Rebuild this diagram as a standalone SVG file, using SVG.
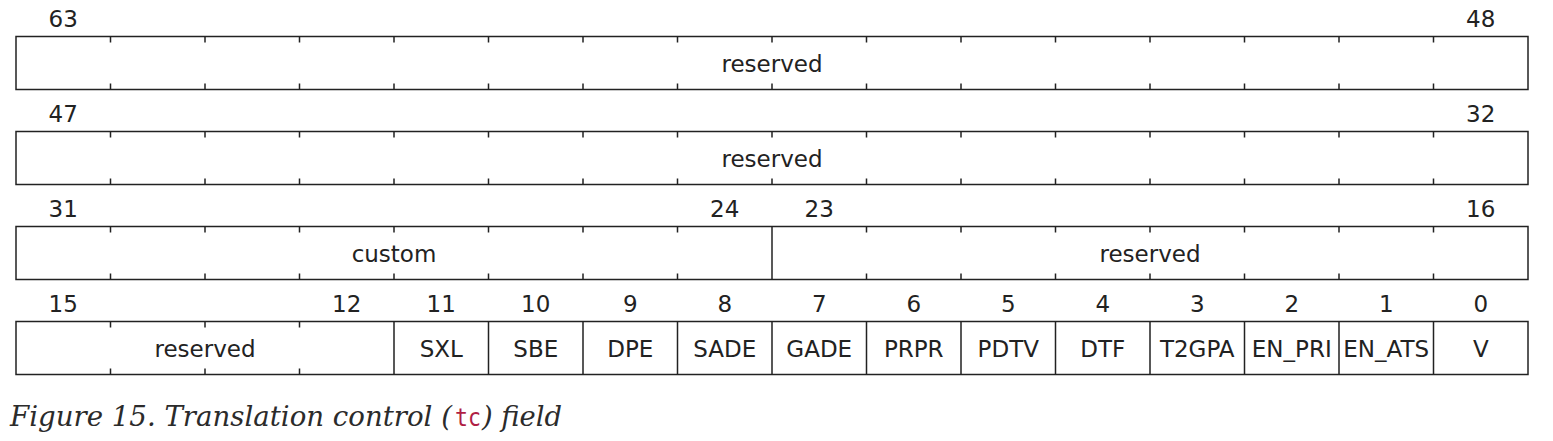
<svg xmlns="http://www.w3.org/2000/svg" width="1553" height="441" viewBox="0 0 1553 441">
<style>
.box{fill:#fff;stroke:#222;stroke-width:1.5}
.sep{stroke:#222;stroke-width:1.5}
.tk{stroke:#222;stroke-width:1.5}
.num{font-family:"DejaVu Sans",sans-serif;font-size:23px;fill:#222;text-anchor:middle}
.lbl{font-family:"DejaVu Sans",sans-serif;font-size:23px;fill:#222;text-anchor:middle}
.cap{font-family:"DejaVu Serif","Liberation Serif",serif;font-style:italic;font-size:27px;fill:#2b2b2b}
.code{font-family:"DejaVu Sans Mono",monospace;font-style:normal;font-size:25px;fill:#b01e45}
</style>
<rect width="1553" height="441" fill="#fff"/>

<g id="row1">
<rect class="box" x="16" y="36.5" width="1512" height="53"/>
<path class="tk" d="M110.5 36.5v6M205 36.5v6M299.5 36.5v6M394 36.5v6M488.5 36.5v6M583 36.5v6M677.5 36.5v6M772 36.5v6M866.5 36.5v6M961 36.5v6M1055.5 36.5v6M1150 36.5v6M1244.5 36.5v6M1339 36.5v6M1433.5 36.5v6M110.5 89.5v-6M205 89.5v-6M299.5 89.5v-6M394 89.5v-6M488.5 89.5v-6M583 89.5v-6M677.5 89.5v-6M772 89.5v-6M866.5 89.5v-6M961 89.5v-6M1055.5 89.5v-6M1150 89.5v-6M1244.5 89.5v-6M1339 89.5v-6M1433.5 89.5v-6"/>
<text class="num" x="63.25" y="27">63</text>
<text class="num" x="1480.75" y="27">48</text>
<text class="lbl" x="772" y="72">reserved</text>
</g>

<g id="row2">
<rect class="box" x="16" y="131.5" width="1512" height="53"/>
<path class="tk" d="M110.5 131.5v6M205 131.5v6M299.5 131.5v6M394 131.5v6M488.5 131.5v6M583 131.5v6M677.5 131.5v6M772 131.5v6M866.5 131.5v6M961 131.5v6M1055.5 131.5v6M1150 131.5v6M1244.5 131.5v6M1339 131.5v6M1433.5 131.5v6M110.5 184.5v-6M205 184.5v-6M299.5 184.5v-6M394 184.5v-6M488.5 184.5v-6M583 184.5v-6M677.5 184.5v-6M772 184.5v-6M866.5 184.5v-6M961 184.5v-6M1055.5 184.5v-6M1150 184.5v-6M1244.5 184.5v-6M1339 184.5v-6M1433.5 184.5v-6"/>
<text class="num" x="63.25" y="122">47</text>
<text class="num" x="1480.75" y="122">32</text>
<text class="lbl" x="772" y="167">reserved</text>
</g>

<g id="row3">
<rect class="box" x="16" y="226.5" width="1512" height="53"/>
<path class="sep" d="M772 226.5v53"/>
<path class="tk" d="M110.5 226.5v6M205 226.5v6M299.5 226.5v6M394 226.5v6M488.5 226.5v6M583 226.5v6M677.5 226.5v6M866.5 226.5v6M961 226.5v6M1055.5 226.5v6M1150 226.5v6M1244.5 226.5v6M1339 226.5v6M1433.5 226.5v6M110.5 279.5v-6M205 279.5v-6M299.5 279.5v-6M394 279.5v-6M488.5 279.5v-6M583 279.5v-6M677.5 279.5v-6M866.5 279.5v-6M961 279.5v-6M1055.5 279.5v-6M1150 279.5v-6M1244.5 279.5v-6M1339 279.5v-6M1433.5 279.5v-6"/>
<text class="num" x="63.25" y="217">31</text>
<text class="num" x="724.75" y="217">24</text>
<text class="num" x="819.25" y="217">23</text>
<text class="num" x="1480.75" y="217">16</text>
<text class="lbl" x="394" y="262">custom</text>
<text class="lbl" x="1150" y="262">reserved</text>
</g>

<g id="row4">
<rect class="box" x="16" y="321.5" width="1512" height="53"/>
<path class="sep" d="M394 321.5v53M488.5 321.5v53M583 321.5v53M677.5 321.5v53M772 321.5v53M866.5 321.5v53M961 321.5v53M1055.5 321.5v53M1150 321.5v53M1244.5 321.5v53M1339 321.5v53M1433.5 321.5v53"/>
<path class="tk" d="M110.5 321.5v6M205 321.5v6M299.5 321.5v6M110.5 374.5v-6M205 374.5v-6M299.5 374.5v-6"/>
<text class="num" x="63.25" y="312">15</text>
<text class="num" x="346.75" y="312">12</text>
<text class="num" x="441.25" y="312">11</text>
<text class="num" x="535.75" y="312">10</text>
<text class="num" x="630.25" y="312">9</text>
<text class="num" x="724.75" y="312">8</text>
<text class="num" x="819.25" y="312">7</text>
<text class="num" x="913.75" y="312">6</text>
<text class="num" x="1008.25" y="312">5</text>
<text class="num" x="1102.75" y="312">4</text>
<text class="num" x="1197.25" y="312">3</text>
<text class="num" x="1291.75" y="312">2</text>
<text class="num" x="1386.25" y="312">1</text>
<text class="num" x="1480.75" y="312">0</text>
<text class="lbl" x="205" y="357">reserved</text>
<text class="lbl" x="441.25" y="357">SXL</text>
<text class="lbl" x="535.75" y="357">SBE</text>
<text class="lbl" x="630.25" y="357">DPE</text>
<text class="lbl" x="724.75" y="357">SADE</text>
<text class="lbl" x="819.25" y="357">GADE</text>
<text class="lbl" x="913.75" y="357">PRPR</text>
<text class="lbl" x="1008.25" y="357">PDTV</text>
<text class="lbl" x="1102.75" y="357">DTF</text>
<text class="lbl" x="1197.25" y="357">T2GPA</text>
<text class="lbl" x="1291.75" y="357">EN_PRI</text>
<text class="lbl" x="1386.25" y="357">EN_ATS</text>
<text class="lbl" x="1480.75" y="357">V</text>
</g>

<g id="caption">
<text class="cap" x="10" y="426" textLength="442" lengthAdjust="spacingAndGlyphs">Figure 15. Translation control (</text>
<text class="code" x="455" y="426" textLength="26" lengthAdjust="spacingAndGlyphs">tc</text>
<text class="cap" x="482" y="426" textLength="80" lengthAdjust="spacingAndGlyphs">) field</text>
</g>
</svg>
